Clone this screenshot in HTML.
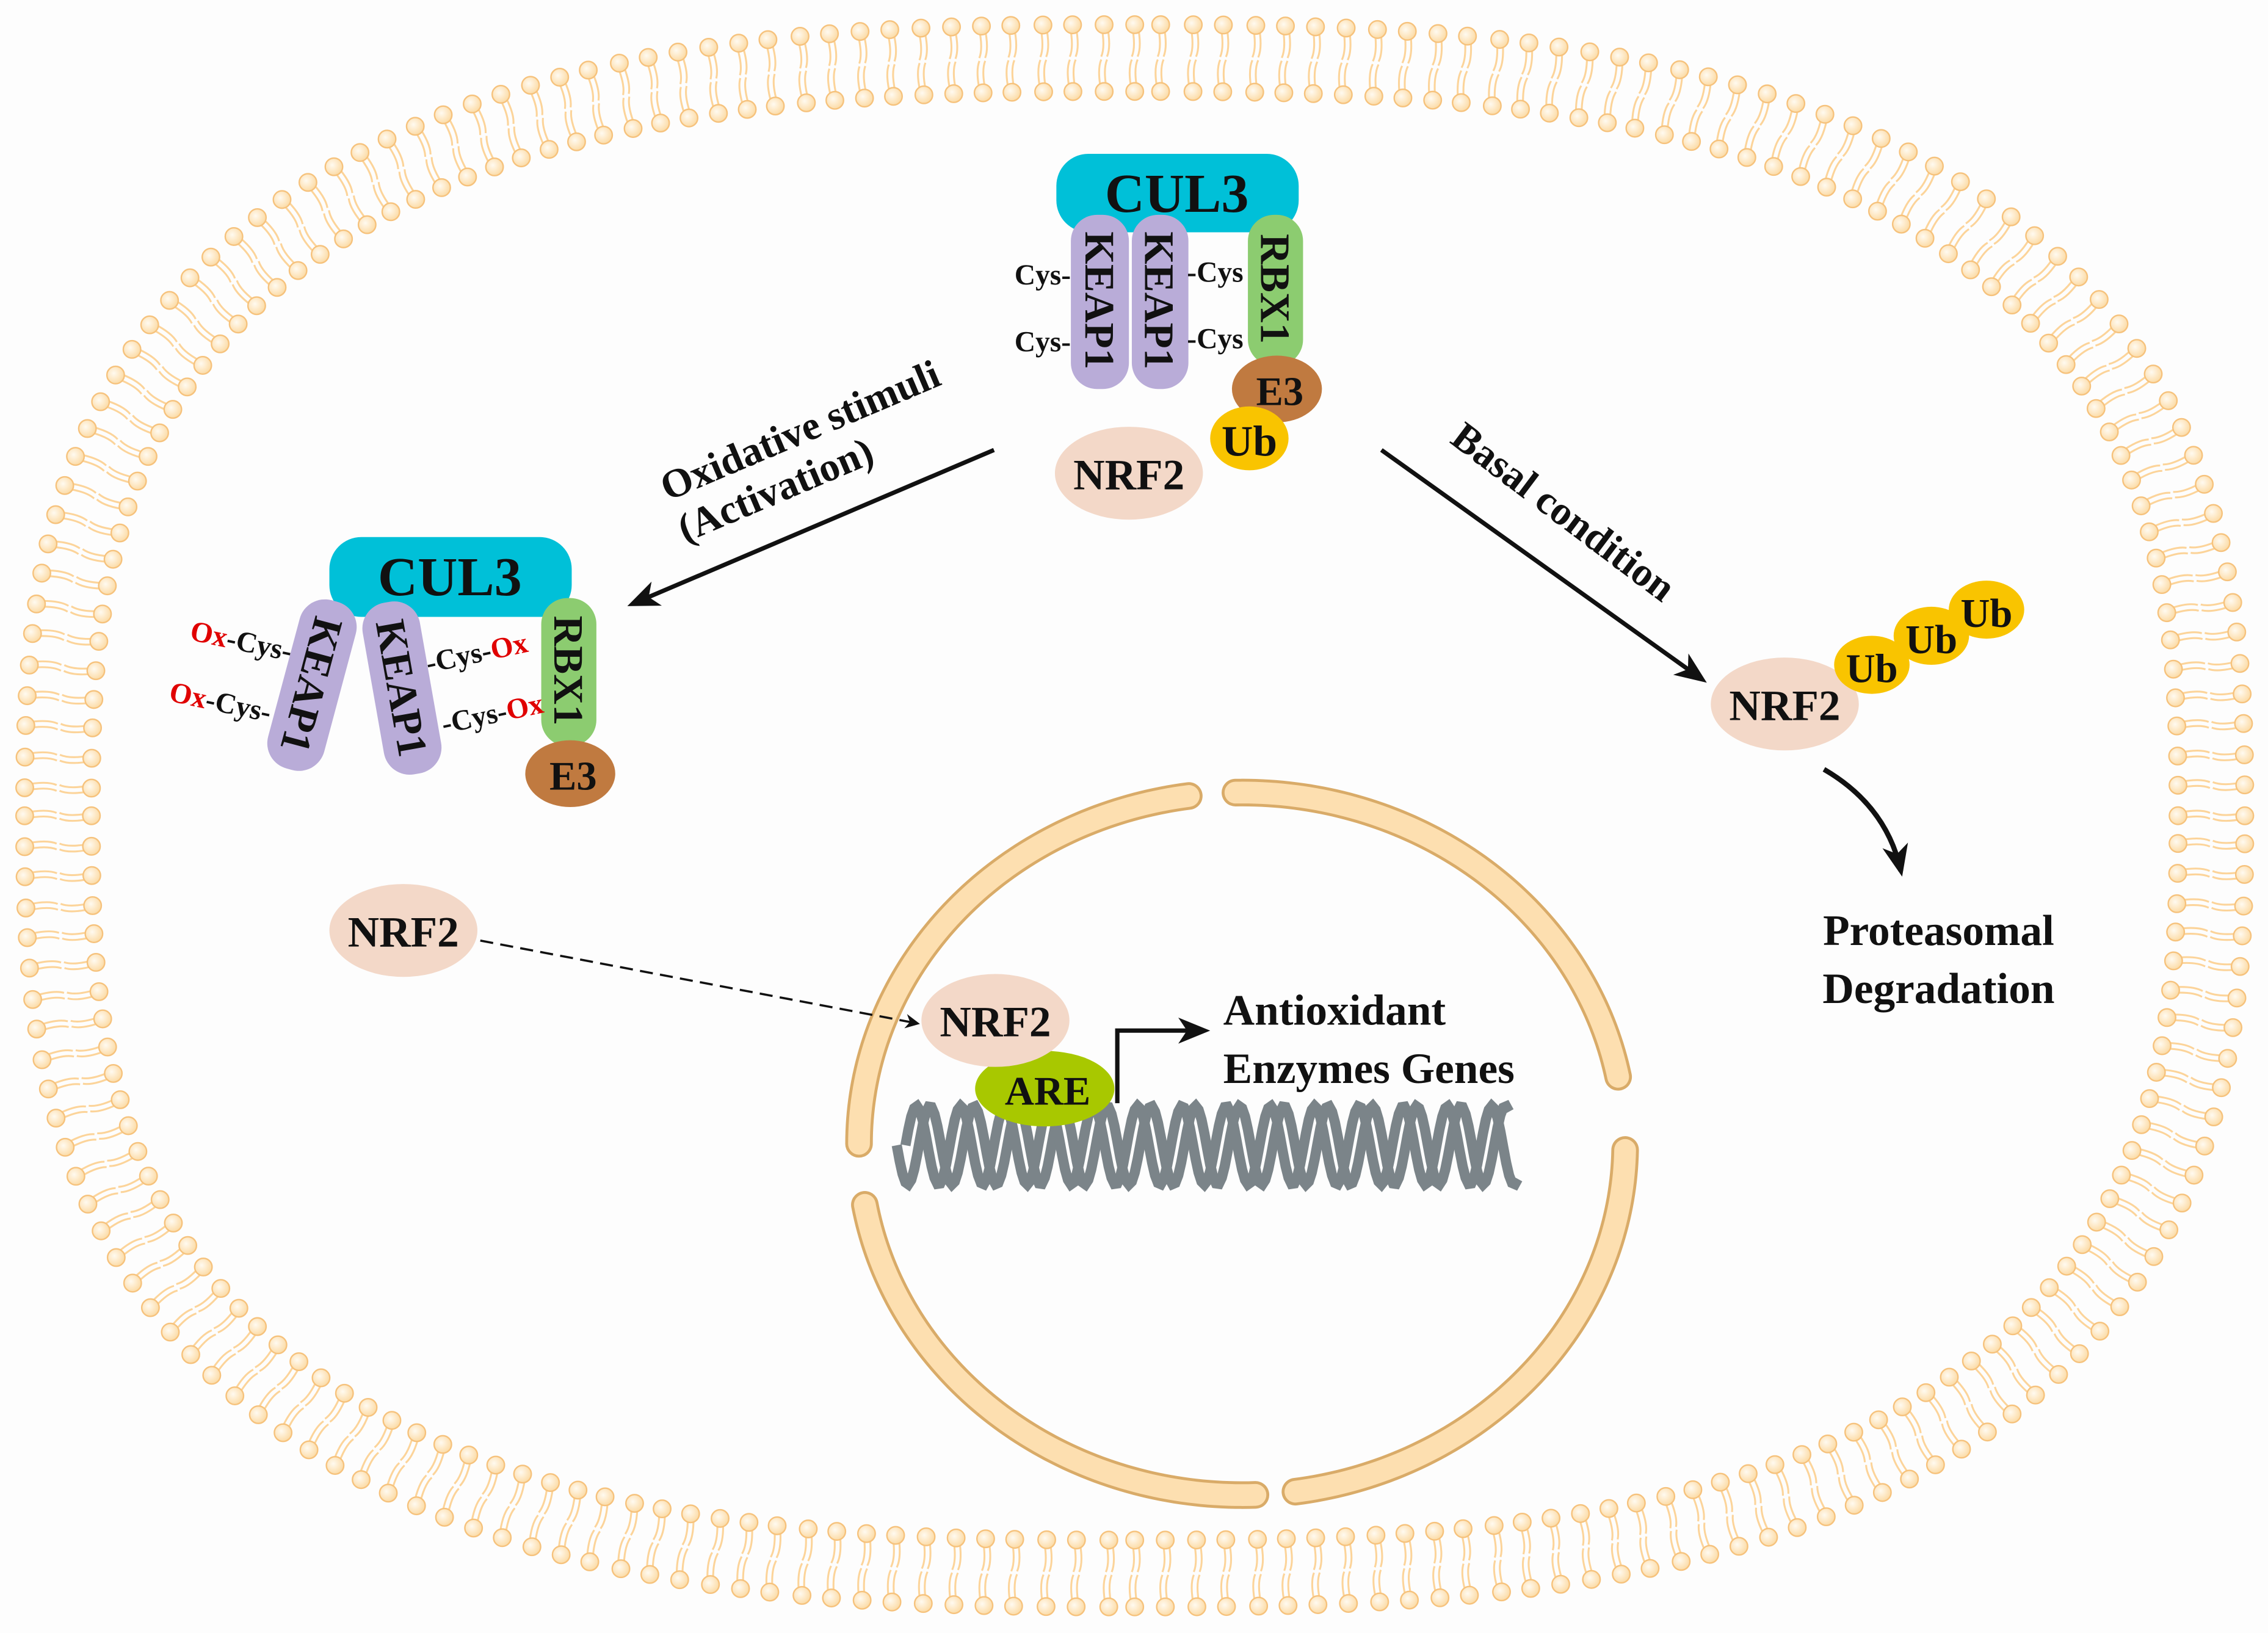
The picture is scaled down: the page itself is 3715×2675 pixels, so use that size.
<!DOCTYPE html>
<html><head><meta charset="utf-8"><style>
html,body{margin:0;padding:0;background:#fff}
svg{display:block}
text{font-family:"Liberation Serif",serif;font-weight:bold;fill:#111}
</style></head><body>
<svg id="s" width="3715" height="2675" viewBox="0 0 1563 1125" preserveAspectRatio="none" xmlns="http://www.w3.org/2000/svg">
<defs>
<radialGradient id="hg" cx="0.4" cy="0.4" r="0.6"><stop offset="0" stop-color="#fffaf0"/><stop offset="1" stop-color="#fcdca8"/></radialGradient>
<marker id="ah" markerWidth="10" markerHeight="10" refX="8" refY="5" orient="auto" markerUnits="userSpaceOnUse" viewBox="0 0 10 10"><path d="M0,0 L10,5 L0,10 L3,5 z" fill="#111"/></marker>
<marker id="ah2" markerWidth="22" markerHeight="22" refX="18" refY="11" orient="auto" markerUnits="userSpaceOnUse" viewBox="0 0 22 22"><path d="M0,2 L22,11 L0,20 L6,11 z" fill="#111"/></marker>
</defs>
<rect width="1563" height="1125" fill="#fdfdfd"/>
<g id="mem"></g>
<g id="nuc"></g>
<g id="dna"></g>

<rect x="728" y="106" width="167" height="54" rx="22" fill="#00c0d8"/>
<text x="811" y="146" font-size="38" text-anchor="middle">CUL3</text>
<rect x="738" y="148" width="40" height="120" rx="18" fill="#b9acd8"/>
<rect x="780" y="148" width="39" height="120" rx="18" fill="#b9acd8"/>
<rect x="860" y="148" width="38" height="104" rx="18" fill="#8ccc70"/>
<text transform="translate(748,207) rotate(90)" font-size="29" text-anchor="middle">KEAP1</text>
<text transform="translate(789,207) rotate(90)" font-size="29" text-anchor="middle">KEAP1</text>
<text transform="translate(869,199) rotate(90)" font-size="29" text-anchor="middle">RBX1</text>
<text x="738" y="196" font-size="20" text-anchor="end">Cys-</text>
<text x="738" y="242" font-size="20" text-anchor="end">Cys-</text>
<text x="818" y="194" font-size="20">-Cys</text>
<text x="818" y="240" font-size="20">-Cys</text>
<ellipse cx="880" cy="268" rx="31" ry="23" fill="#c07a40"/>
<text x="882" y="279" font-size="28" text-anchor="middle">E3</text>
<ellipse cx="861" cy="302" rx="27" ry="22" fill="#f9c400"/>
<text x="861" y="314" font-size="30" text-anchor="middle">Ub</text>
<ellipse cx="778" cy="326" rx="51" ry="32" fill="#f3d8c8"/>
<text x="778" y="337" font-size="30" text-anchor="middle">NRF2</text>

<rect x="227" y="370" width="167" height="55" rx="22" fill="#00c0d8"/>
<text x="310" y="410" font-size="38" text-anchor="middle">CUL3</text>
<g transform="translate(215,472) rotate(15)"><rect x="-20" y="-60" width="40" height="120" rx="18" fill="#b9acd8"/><text transform="translate(-10,0) rotate(90)" font-size="29" text-anchor="middle">KEAP1</text></g>
<g transform="translate(277,474) rotate(-10)"><rect x="-20" y="-60" width="40" height="120" rx="18" fill="#b9acd8"/><text transform="translate(-10,0) rotate(90)" font-size="29" text-anchor="middle">KEAP1</text></g>
<rect x="373" y="412" width="38" height="102" rx="18" fill="#8ccc70"/>
<text transform="translate(382,462) rotate(90)" font-size="29" text-anchor="middle">RBX1</text>
<ellipse cx="393" cy="533" rx="31" ry="23" fill="#c07a40"/>
<text x="395" y="544" font-size="28" text-anchor="middle">E3</text>
<g transform="rotate(12 165 445)"><text x="130" y="448" font-size="20"><tspan fill="#e00000">Ox</tspan>-Cys-</text></g>
<g transform="rotate(12 150 490)"><text x="115" y="490" font-size="20"><tspan fill="#e00000">Ox</tspan>-Cys-</text></g>
<g transform="rotate(-12 330 445)"><text x="292" y="456" font-size="20">-Cys-<tspan fill="#e00000">Ox</tspan></text></g>
<g transform="rotate(-12 340 488)"><text x="303" y="498" font-size="20">-Cys-<tspan fill="#e00000">Ox</tspan></text></g>

<line x1="685" y1="310" x2="436" y2="416" stroke="#111" stroke-width="3" marker-end="url(#ah2)"/>
<text transform="translate(555,305) rotate(-23)" font-size="28" text-anchor="middle">Oxidative stimuli</text>
<text transform="translate(538,346) rotate(-23)" font-size="28" text-anchor="middle">(Activation)</text>
<line x1="952" y1="310" x2="1173" y2="468" stroke="#111" stroke-width="3" marker-end="url(#ah2)"/>
<text transform="translate(1072,360) rotate(37)" font-size="28" text-anchor="middle">Basal condition</text>

<ellipse cx="1230" cy="485" rx="51" ry="32" fill="#f3d8c8"/>
<text x="1230" y="496" font-size="30" text-anchor="middle">NRF2</text>
<ellipse cx="1369" cy="420" rx="26" ry="20" fill="#f9c400"/>
<text x="1369" y="432" font-size="28" text-anchor="middle">Ub</text>
<ellipse cx="1331" cy="438" rx="26" ry="20" fill="#f9c400"/>
<text x="1331" y="450" font-size="28" text-anchor="middle">Ub</text>
<ellipse cx="1290" cy="458" rx="26" ry="20" fill="#f9c400"/>
<text x="1290" y="470" font-size="28" text-anchor="middle">Ub</text>
<path d="M1257,530 Q1300,555 1310,600" fill="none" stroke="#111" stroke-width="3.5" marker-end="url(#ah2)"/>
<text x="1336" y="651" font-size="30" text-anchor="middle">Proteasomal</text>
<text x="1336" y="691" font-size="30" text-anchor="middle">Degradation</text>

<ellipse cx="278" cy="641" rx="51" ry="32" fill="#f3d8c8"/>
<text x="278" y="652" font-size="30" text-anchor="middle">NRF2</text>
<line x1="331" y1="648" x2="632" y2="705" stroke="#111" stroke-width="1.5" stroke-dasharray="9,5" marker-end="url(#ah)"/>

<g id="front"></g>
</svg>
<script>
var NS="http://www.w3.org/2000/svg";
function el(p,t,a){var e=document.createElementNS(NS,t);for(var k in a)e.setAttribute(k,a[k]);p.appendChild(e);return e;}
var mem=document.getElementById('mem');
var cx=782,cy=562,A=765,B=545,n=2.7,pts=[];
function pt(t){var c=Math.cos(t),s=Math.sin(t);return [cx+A*Math.sign(c)*Math.pow(Math.abs(c),2/n),cy+B*Math.sign(s)*Math.pow(Math.abs(s),2/n)];}
var N=4000,L=[0];pts.push(pt(0));
for(var i=1;i<=N;i++){var p=pt(i/N*2*Math.PI);pts.push(p);var q=pts[i-1];L.push(L[i-1]+Math.hypot(p[0]-q[0],p[1]-q[1]));}
var tot=L[N],cnt=Math.round(tot/21),j=0;
for(var k=0;k<cnt;k++){var d=k*tot/cnt;while(L[j+1]<d)j++;var p=pts[j],q=pts[Math.min(j+3,N)],r=pts[Math.max(j-3,0)];
var tx=q[0]-r[0],ty=q[1]-r[1],tl=Math.hypot(tx,ty);tx/=tl;ty/=tl;var nx=ty,ny=-tx;
if((p[0]-cx)*nx+(p[1]-cy)*ny<0){nx=-nx;ny=-ny;}
var ix=p[0]-nx*46,iy=p[1]-ny*46;
for(var o=-2;o<=2;o+=4){var ox=tx*o,oy=ty*o;
var m1x=p[0]-nx*15+tx*3,m1y=p[1]-ny*15+ty*3,m2x=ix+nx*15-tx*3,m2y=iy+ny*15-ty*3;
el(mem,'path',{d:'M'+(p[0]+ox)+','+(p[1]+oy)+' Q'+(m1x+ox)+','+(m1y+oy)+' '+(p[0]-nx*22+ox)+','+(p[1]-ny*22+oy)+' M'+(ix+ox)+','+(iy+oy)+' Q'+(m2x+ox)+','+(m2y+oy)+' '+(ix+nx*22+ox)+','+(iy+ny*22+oy),fill:'none',stroke:'#fcd49a','stroke-width':1.3});}
el(mem,'circle',{cx:p[0],cy:p[1],r:6,fill:'url(#hg)',stroke:'#f6c27c','stroke-width':1});
el(mem,'circle',{cx:ix,cy:iy,r:6,fill:'url(#hg)',stroke:'#f6c27c','stroke-width':1});}
var nuc=document.getElementById('nuc'),ncx=856,ncy=788,rx=264,ry=242;
function arc(a0,a1){var s='';for(var a=a0;a<=a1;a+=1){var r=a*Math.PI/180;s+=(s?'L':'M')+(ncx+rx*Math.cos(r))+','+(ncy+ry*Math.sin(r));}return s;}
[[-91,-11],[1,82],[88,170],[180,262]].forEach(function(g){var d=arc(g[0],g[1]);
el(nuc,'path',{d:d,fill:'none',stroke:'#d9ab68','stroke-width':19,'stroke-linecap':'round'});
el(nuc,'path',{d:d,fill:'none',stroke:'#fddfb0','stroke-width':15,'stroke-linecap':'round'});});
var dna=document.getElementById('dna');
for(var ph=0;ph<2;ph++){var s='';for(var x=618;x<=1040;x+=2){var y=789+27*Math.sin((x-618)/30.5*2*Math.PI+ph*Math.PI);s+=(s?'L':'M')+(x+ph*6)+','+y;}
el(dna,'path',{d:s,fill:'none',stroke:'#7b8489','stroke-width':7});}
var f=document.getElementById('front');
el(f,'ellipse',{cx:720,cy:750,rx:48,ry:26,fill:'#a8c800'});
var t=el(f,'text',{x:722,y:761,'font-size':28,'text-anchor':'middle'});t.textContent='ARE';
el(f,'ellipse',{cx:686,cy:703,rx:51,ry:32,fill:'#f3d8c8'});
t=el(f,'text',{x:686,y:714,'font-size':30,'text-anchor':'middle'});t.textContent='NRF2';
el(f,'path',{d:'M770,760 L770,710 L830,710',fill:'none',stroke:'#111','stroke-width':3,'marker-end':'url(#ah2)'});
t=el(f,'text',{x:843,y:706,'font-size':30});t.textContent='Antioxidant';
t=el(f,'text',{x:843,y:746,'font-size':30});t.textContent='Enzymes Genes';
</script>
</body></html>
